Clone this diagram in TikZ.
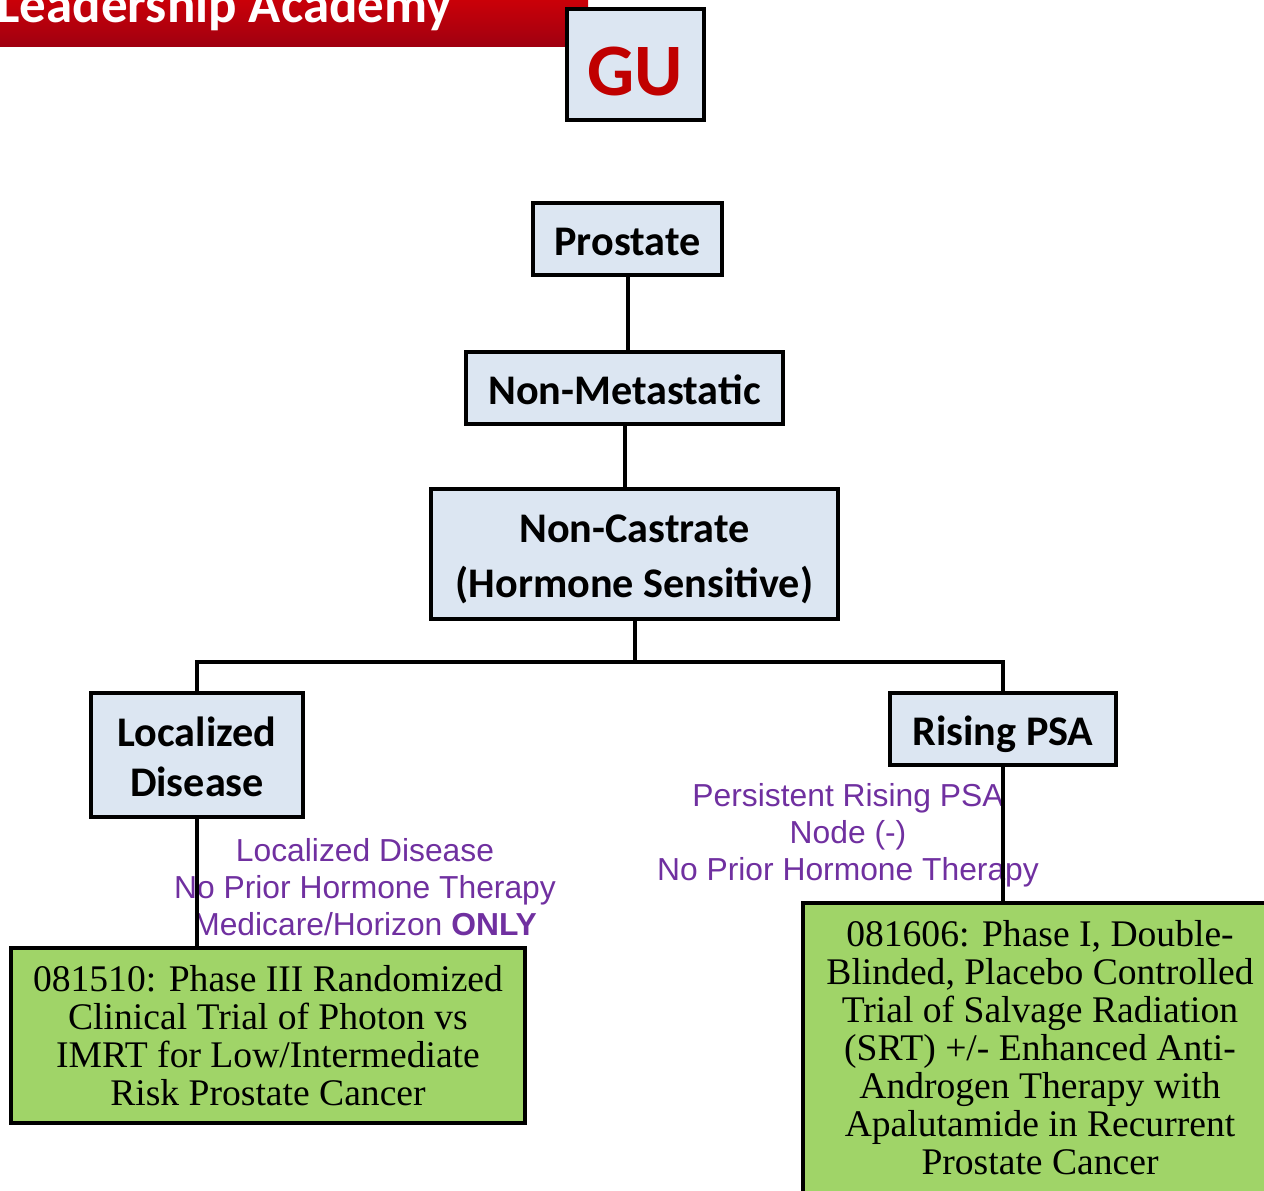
\documentclass[tikz,border=0pt]{standalone}
\usepackage{fontspec}
\setmainfont{Liberation Serif}
\newfontfamily\headfont{Carlito}
\newfontfamily\notefont{Liberation Sans}
\usetikzlibrary{positioning}
\definecolor{boxblue}{HTML}{DCE6F2}
\definecolor{trialgreen}{HTML}{A0D468}
\definecolor{notepurple}{HTML}{7030A0}
\definecolor{gured}{HTML}{C00000}
\definecolor{bannertop}{HTML}{CC0008}
\definecolor{bannerbot}{HTML}{A00010}

\tikzset{
  catbox/.style={draw,line width=2pt,fill=boxblue,inner sep=0pt,align=center,
    text height=16.5pt,text depth=0pt,
    font=\headfont\bfseries\fontsize{21.1}{25}\selectfont},
  trialbox/.style={draw,line width=2pt,fill=trialgreen,inner sep=0pt,align=center,
    font=\fontsize{18.8}{19}\selectfont},
  note/.style={align=center,text=notepurple,inner sep=0pt,
    font=\notefont\fontsize{15.9}{18.5}\selectfont},
  link/.style={line width=2pt}
}

\begin{document}
\begin{tikzpicture}[x=0.5pt,y=-0.5pt]
  \useasboundingbox (0,0) rectangle (1264,1190);
  % banner at the top left
  \shade[top color=bannertop,bottom color=bannerbot] (0,-2) rectangle (588,46);
  \node (banner) at (-3,22)[anchor=base west,inner sep=0pt,text=white,
    font=\headfont\bfseries\fontsize{26.5}{30}\selectfont]{Leadership Academy};
  \node (gu) at (635.5,64.5)[catbox,minimum width=68.5pt,minimum height=55.5pt,
    text height=30.5pt,text=gured,font=\headfont\bfseries\fontsize{37}{40}\selectfont]{GU};

  \node (prostate) at (627.5,239)[catbox,minimum width=94.5pt,minimum height=36pt]{Prostate};
  \node (nonmet) at (624.5,388)[catbox,minimum width=158.5pt,minimum height=36pt]{Non-Metastatic};
  \node (noncast) at (634.5,554)[catbox,minimum width=203.5pt,minimum height=65pt,
    text height=43.5pt]{Non-Castrate\\[2.5pt](Hormone Sensitive)};
  \node (localized) at (197,755)[catbox,minimum width=106pt,minimum height=62pt,
    text height=41pt]{Localized\\Disease};
  \node (risingpsa) at (1003,729)[catbox,minimum width=113pt,minimum height=36pt]{Rising PSA};

  \node (trialA) at (268,1035.5)[trialbox,minimum width=257pt,minimum height=87.5pt]{081510: Phase III Randomized\\Clinical Trial of Photon vs\\IMRT for Low/Intermediate\\Risk Prostate Cancer};
  \node (trialB) at (1040,1048)[trialbox,minimum width=237pt,minimum height=145pt]{081606: Phase I, Double-\\Blinded, Placebo Controlled\\Trial of Salvage Radiation\\(SRT) +/- Enhanced Anti-\\Androgen Therapy with\\Apalutamide in Recurrent\\Prostate Cancer};

  \node (noteA) at (365,887.5)[note]{Localized Disease\\No Prior Hormone Therapy\\Medicare/Horizon \textbf{ONLY}};
  \node (noteB) at (848,835)[note]{Persistent Rising PSA\\Node (-)\\No Prior Hormone Therapy};

  % connectors
  \coordinate (split) at (634.5,662);
  \draw[link] (prostate.south) -- (prostate.south |- nonmet.north);
  \draw[link] (nonmet.south) -- (nonmet.south |- noncast.north);
  \draw[link] (noncast.south) -- (split);
  \draw[link] (localized.north) |- (split) -| (risingpsa.north);
  \draw[link] (localized.south) -- (localized.south |- trialA.north);
  \draw[link] (risingpsa.south) -- (risingpsa.south |- trialB.north);
\end{tikzpicture}
\end{document}
